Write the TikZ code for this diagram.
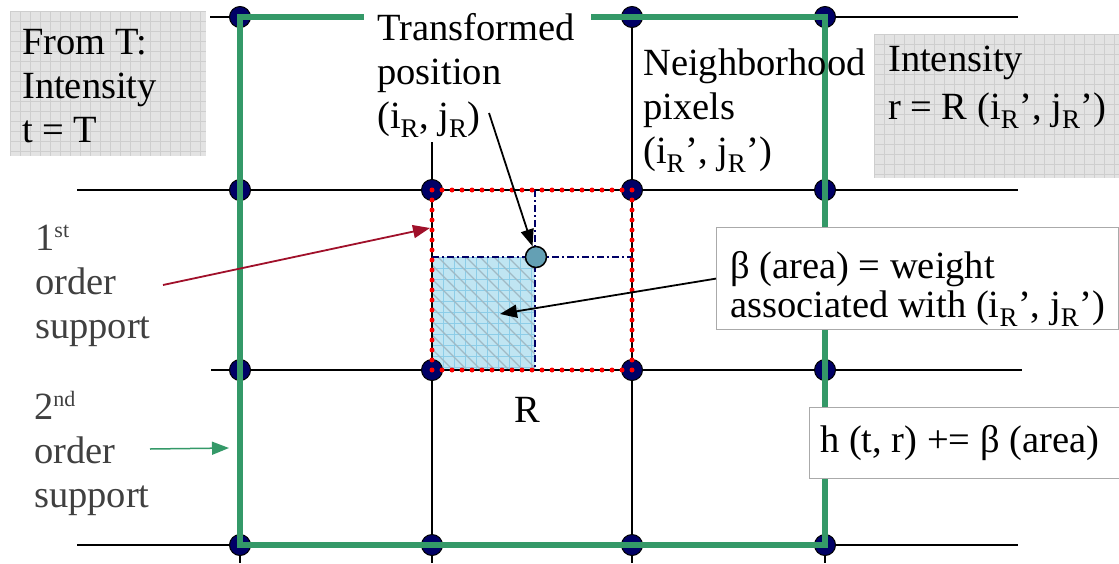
\documentclass[tikz,border=0pt]{standalone}
\usepackage{fontspec}
\setmainfont{Liberation Serif}
\usetikzlibrary{arrows.meta}
\definecolor{navy}{RGB}{0,0,102}
\definecolor{sgreen}{RGB}{52,153,104}
\definecolor{dred}{RGB}{160,16,42}
\definecolor{boxgray}{RGB}{227,227,227}
\definecolor{boxline}{RGB}{206,206,206}
\definecolor{hblue}{RGB}{192,229,242}
\definecolor{hline}{RGB}{140,205,232}
\definecolor{hdiag}{RGB}{160,185,196}
\definecolor{ptblue}{RGB}{100,160,180}
\definecolor{labgray}{RGB}{64,64,64}
\definecolor{wborder}{RGB}{170,170,170}
\newcommand{\supr}[1]{\raisebox{13pt}{\fontsize{22}{22}\selectfont #1}}
\tikzset{
  txt/.style={font=\fontsize{38.5}{44}\selectfont, inner sep=0pt, align=left, anchor=base west},
  gridline/.style={line width=1.8pt, black},
  pix/.style={circle, fill=navy, draw=black, line width=1pt, minimum size=21pt, inner sep=0pt},
  tpoint/.style={circle, fill=ptblue, draw=black, line width=1.5pt, minimum size=21pt, inner sep=0pt},
  arr/.style={line width=1.8pt, -{Triangle[length=17pt,width=13pt]}},
  dashdot/.style={navy, line width=1.5pt, dash pattern=on 7pt off 3pt on 2pt off 3pt},
  reddots/.style={red, line width=5pt, line cap=round, dash pattern=on 0pt off 10pt},
  wbox/.style={draw=wborder, fill=white, line width=1.2pt, inner sep=0pt},
}
\begin{document}
\begin{tikzpicture}[x=1pt,y=-1pt]
\useasboundingbox (0,0) rectangle (1119,563);

% gray grid boxes
\fill[boxgray] (10,11) rectangle (206,156);
\begin{scope}
  \clip (10,11) rectangle (206,156);
  \foreach \x in {10,20,...,210} \draw[boxline, line width=0.7pt] (\x,11) -- (\x,156);
  \foreach \y in {11,21,...,161} \draw[boxline, line width=0.7pt] (10,\y) -- (206,\y);
\end{scope}
\fill[boxgray] (874,34) rectangle (1119,178);
\begin{scope}
  \clip (874,34) rectangle (1119,178);
  \foreach \x in {874,884,...,1124} \draw[boxline, line width=0.7pt] (\x,34) -- (\x,178);
  \foreach \y in {34,44,...,184} \draw[boxline, line width=0.7pt] (874,\y) -- (1119,\y);
\end{scope}

% hatched area
\fill[hblue] (432,257) rectangle (535,370);
\begin{scope}
  \clip (432,257) rectangle (535,370);
  \foreach \x in {432,443,...,540} \draw[hline, line width=0.7pt] (\x,257) -- (\x,370);
  \foreach \y in {257,268,...,375} \draw[hline, line width=0.7pt] (432,\y) -- (535,\y);
  \foreach \d in {-120,-106,...,110} \draw[hdiag, line width=1.2pt] (432+\d,257) -- (545+\d,370);
\end{scope}

% grid lines
\draw[gridline] (210,17) -- (1018,17);
\draw[gridline] (77,190) -- (1018,190);
\draw[gridline] (211,370) -- (1022,370);
\draw[gridline] (77,545) -- (1018,545);
\draw[gridline] (240,17) -- (240,563);
\draw[gridline] (432,17) -- (432,563);
\draw[gridline] (632,17) -- (632,563);
\draw[gridline] (825,17) -- (825,563);

% dash-dot lines
\draw[dashdot] (535,190) -- (535,370);
\draw[dashdot] (432,257) -- (632,257);

% pixel dots
\foreach \x/\n in {240/a,432/b,632/c,825/d}{
  \foreach \y/\m in {17/1,190/2,370/3,545/4}{
    \node[pix] (p\n\m) at (\x,\y) {};
  }
}

% red dotted square (first order support)
\draw[reddots] (pb2.center) -- (pc2.center) -- (pc3.center) -- (pb3.center) -- cycle;

% green rectangle (second order support)
\draw[sgreen, line width=6pt] (pa1.center) rectangle (pd4.center);

% transformed position point
\node[tpoint] (tp) at (536,257) {};

% white backing of the "Transformed position" label
\fill[white] (364,0) rectangle (591,142);

% labels (anchor = baseline of the last line)
\node[txt] (fromT) at (22,142) {From T:\\Intensity\\t = T};
\node[txt] (trans) at (377,128) {Transformed\\position\\(i\textsubscript{R}, j\textsubscript{R})};
\node[txt] (neigh) at (643,163) {Neighborhood\\pixels\\(i\textsubscript{R}’, j\textsubscript{R}’)};
\node[txt, font=\fontsize{38.5}{48}\selectfont] (inten) at (888,119) {Intensity\\r = R (i\textsubscript{R}’, j\textsubscript{R}’)};
\node[txt, text=labgray] (first) at (35,338) {1\supr{st}\\order\\support};
\node[txt, text=labgray] (second) at (34,507) {2\supr{nd}\\order\\support};
\node[txt, anchor=base] (Rlab) at (527,422) {R};

\node[wbox, minimum width=402pt, minimum height=102pt, anchor=north west] (bbox) at (716,227) {};
\node[txt, font=\fontsize{38.5}{39}\selectfont] (btext) at (730,317) {β (area) = weight\\associated with (i\textsubscript{R}’, j\textsubscript{R}’)};
\node[wbox, minimum width=312pt, minimum height=71pt, anchor=north west] (hbox) at (809,407) {};
\node[txt] (htext) at (820,452) {h (t, r) += β (area)};

% arrows
\coordinate (a1s) at (489,113);
\draw[arr] (a1s) -- (tp);
\coordinate (a2e) at (500,314);
\draw[arr] (bbox.west) -- (a2e);
\coordinate (r1s) at (163,285);
\coordinate (r1e) at (430,228);
\draw[arr, dred] (r1s) -- (r1e);
\coordinate (g1s) at (150,449);
\coordinate (g1e) at (229,448);
\draw[arr, sgreen, line width=1.5pt] (g1s) -- (g1e);
\end{tikzpicture}
\end{document}
